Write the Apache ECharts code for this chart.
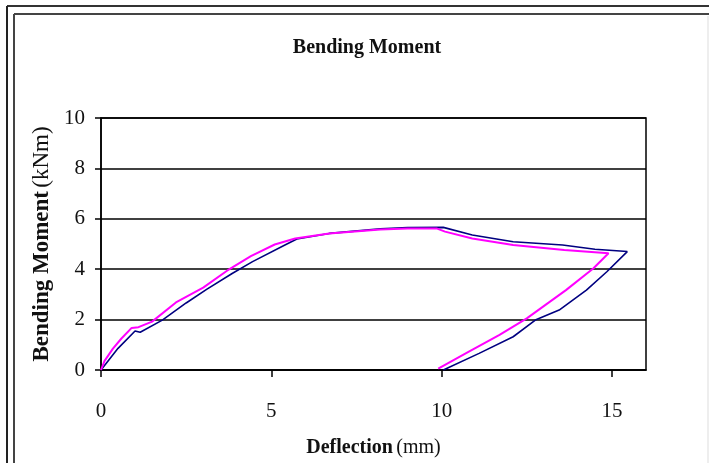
<!DOCTYPE html>
<html>
<head>
<meta charset="utf-8">
<script src="https://cdn.jsdelivr.net/npm/echarts@6/dist/echarts.min.js"></script>
<style>
  html, body { margin: 0; padding: 0; background: #fff; }
  #chart { width: 709px; height: 463px; }
</style>
</head>
<body>
<div id="chart"></div>
<script>
// Deflection (mm) / bending moment (kNm) pairs for the two specimens
const navyDeflection = [0, 0.5, 1.0, 1.15, 1.8, 2.5, 3.1, 3.85, 4.45, 5.4, 5.75, 6.7, 8.2, 9.0, 10.05, 10.9, 12.1, 13.55, 14.5, 15.45, 14.85, 14.25, 13.45, 12.75, 12.1, 11.1, 10.05];
const navyMoment     = [0, 0.86, 1.55, 1.5, 1.98, 2.66, 3.2, 3.83, 4.3, 4.96, 5.2, 5.42, 5.6, 5.65, 5.66, 5.36, 5.09, 4.96, 4.79, 4.7, 3.9, 3.17, 2.38, 1.98, 1.32, 0.66, 0];

const pinkDeflection = [0, 0.1, 0.35, 0.6, 0.9, 1.1, 1.5, 2.2, 3.0, 3.7, 4.4, 5.1, 5.7, 6.7, 8.2, 9.0, 9.85, 10.1, 10.9, 12.1, 13.6, 14.9, 14.45, 13.65, 12.5, 11.7, 10.8, 9.9];
const pinkMoment     = [0, 0.35, 0.85, 1.25, 1.67, 1.7, 1.92, 2.68, 3.27, 3.94, 4.52, 4.98, 5.22, 5.42, 5.58, 5.62, 5.62, 5.49, 5.22, 4.96, 4.76, 4.63, 4.03, 3.17, 2.05, 1.39, 0.73, 0.05];

const xTicks = [0, 5, 10, 15];
const yTicks = [0, 2, 4, 6, 8, 10];

const titleText = 'Bending Moment';
const xNameBold = 'Deflection', xNameUnit = '(mm)';
const yNameBold = 'Bending Moment', yNameUnit = '(kNm)';

const serif = 'Liberation Serif';
const pairs = (xs, ys) => xs.map((x, i) => [x, ys[i]]);

const chart = echarts.init(document.getElementById('chart'), null, { renderer: 'canvas' });

chart.setOption({
  backgroundColor: '#fff',
  animation: false,
  title: {
    text: titleText,
    left: 362,
    top: 33,
    textAlign: 'center',
    textStyle: { fontFamily: serif, fontWeight: 'bold', fontSize: 20, color: '#111' }
  },
  graphic: [
    // double frame around the figure
    { type: 'line', shape: { x1: 7, y1: 6, x2: 709, y2: 6 }, style: { stroke: '#333', lineWidth: 2 } },
    { type: 'line', shape: { x1: 7, y1: 6, x2: 7, y2: 463 }, style: { stroke: '#222', lineWidth: 2 } },
    { type: 'line', shape: { x1: 14, y1: 14, x2: 709, y2: 14 }, style: { stroke: '#444', lineWidth: 2 } },
    { type: 'line', shape: { x1: 14, y1: 14, x2: 14, y2: 463 }, style: { stroke: '#444', lineWidth: 2 } },
    { type: 'line', shape: { x1: 708, y1: 16, x2: 708, y2: 463 }, style: { stroke: '#ddd', lineWidth: 1 } }
  ],
  grid: {
    left: 101, right: 63, top: 118, bottom: 93,
    show: true, borderColor: '#000', borderWidth: 1.5, backgroundColor: '#fff'
  },
  xAxis: {
    type: 'value', min: 0, max: 16,
    name: '{b|' + xNameBold + '} {n|' + xNameUnit + '}',
    nameLocation: 'middle', nameGap: 68,
    nameTextStyle: {
      rich: {
        b: { fontFamily: serif, fontWeight: 'bold', fontSize: 20, color: '#111' },
        n: { fontFamily: serif, fontSize: 20, color: '#111' }
      }
    },
    axisLine: { show: true, lineStyle: { color: '#000', width: 1.5 } },
    axisTick: { show: true, inside: false, length: 7, customValues: xTicks, lineStyle: { color: '#000', width: 1.5 } },
    axisLabel: { customValues: xTicks, margin: 31, fontFamily: serif, fontSize: 21, color: '#111' },
    splitLine: { show: false }
  },
  yAxis: {
    type: 'value', min: 0, max: 10, interval: 2,
    name: '{b|' + yNameBold + '} {n|' + yNameUnit + '}',
    nameLocation: 'middle', nameGap: 46, nameRotate: 90,
    nameTextStyle: {
      rich: {
        b: { fontFamily: serif, fontWeight: 'bold', fontSize: 23, color: '#111' },
        n: { fontFamily: serif, fontSize: 23, color: '#111' }
      }
    },
    axisLine: { show: true, lineStyle: { color: '#000', width: 1.5 } },
    axisTick: { show: true, inside: false, length: 6, customValues: yTicks, lineStyle: { color: '#000', width: 1.5 } },
    axisLabel: { customValues: yTicks, margin: 16, fontFamily: serif, fontSize: 21, color: '#111' },
    splitLine: { show: true, lineStyle: { color: '#000', width: 1.5 } }
  },
  series: [
    {
      type: 'line', data: pairs(navyDeflection, navyMoment),
      showSymbol: false, smooth: false,
      lineStyle: { color: '#000080', width: 1.6 }
    },
    {
      type: 'line', data: pairs(pinkDeflection, pinkMoment),
      showSymbol: false, smooth: false,
      lineStyle: { color: '#ff00ff', width: 2 }
    }
  ]
});
</script>
</body>
</html>
